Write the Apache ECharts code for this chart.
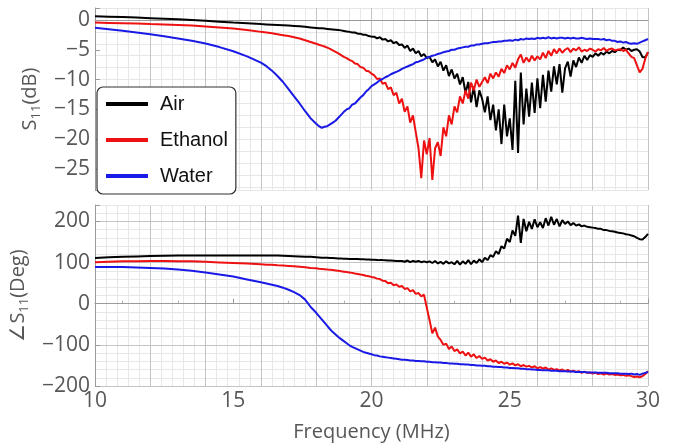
<!DOCTYPE html>
<html>
<head>
<meta charset="utf-8">
<script src="https://cdn.jsdelivr.net/npm/echarts@6/dist/echarts.min.js"></script>
<style>
  html, body { margin: 0; padding: 0; background: #fff; }
  #chart { width: 677px; height: 448px; }
</style>
</head>
<body>
<div id="chart"></div>
<script>
// Frequency sweep points (MHz): coarse where the responses are smooth, 0.1 MHz above 18 MHz
const freq = [10,10.5,11,11.5,12,12.5,13,13.5,14,14.5,15,15.5,16,16.2,16.4,16.6,16.8,17,17.2,17.4,17.6,17.8,18,
  18.1,18.2,18.3,18.4,18.5,18.6,18.7,18.8,18.9,19.0,
  19.1,19.2,19.3,19.4,19.5,19.6,19.7,19.8,19.9,20.0,
  20.1,20.2,20.3,20.4,20.5,20.6,20.7,20.8,20.9,21.0,
  21.1,21.2,21.3,21.4,21.5,21.6,21.7,21.8,21.9,22.0,
  22.1,22.2,22.3,22.4,22.5,22.6,22.7,22.8,22.9,23.0,
  23.1,23.2,23.3,23.4,23.5,23.6,23.7,23.8,23.9,24.0,
  24.1,24.2,24.3,24.4,24.5,24.6,24.7,24.8,24.9,25.0,
  25.1,25.2,25.3,25.4,25.5,25.6,25.7,25.8,25.9,26.0,
  26.1,26.2,26.3,26.4,26.5,26.6,26.7,26.8,26.9,27.0,
  27.1,27.2,27.3,27.4,27.5,27.6,27.7,27.8,27.9,28.0,
  28.1,28.2,28.3,28.4,28.5,28.6,28.7,28.8,28.9,29.0,
  29.1,29.2,29.3,29.4,29.5,29.6,29.7,29.8,29.9,30.0];

// |S11| in dB
const airMag = [0.6,0.55,0.5,0.4,0.3,0.2,0.1,0,-0.15,-0.3,-0.45,-0.55,-0.7,-0.75,-0.8,-0.85,-0.9,-0.95,-1.0,-1.05,-1.15,-1.25,-1.35,
  -1.4,-1.4,-1.45,-1.5,-1.55,-1.6,-1.65,-1.7,-1.75,-1.85,
  -1.95,-2.0,-2.1,-2.1,-2.3,-2.3,-2.5,-2.5,-2.7,-2.8,
  -2.8,-3.1,-2.9,-3.3,-3.2,-3.6,-3.4,-3.9,-3.7,-4.2,
  -4.1,-4.7,-4.3,-5.2,-4.8,-5.6,-5.2,-6.1,-5.7,-6.4,
  -6.2,-7.1,-6.6,-7.8,-7.0,-8.5,-7.6,-9.4,-8.3,-9.8,
  -9.0,-10.8,-9.6,-12.2,-10.4,-13.8,-11.2,-14.6,-11.8,-13.2,
  -15.5,-12.8,-16.8,-14.2,-18.5,-15.0,-20.8,-14.2,-19.5,-16.5,
  -21.8,-10.2,-22.3,-8.8,-17.5,-11.5,-16.2,-10.5,-15.6,-9.8,
  -14.8,-9.2,-13.7,-8.5,-12.0,-7.8,-10.8,-7.4,-12.2,-8.1,
  -7.0,-9.5,-6.8,-7.9,-6.3,-7.2,-6.0,-6.7,-5.9,-6.2,
  -5.6,-6.0,-5.5,-5.8,-5.3,-5.6,-5.2,-5.4,-5.0,-5.1,
  -4.6,-5.0,-4.8,-5.2,-5.0,-4.9,-5.3,-6.2,-6.3,-5.4];
const ethanolMag = [-0.45,-0.5,-0.55,-0.6,-0.7,-0.75,-0.85,-0.95,-1.1,-1.25,-1.45,-1.7,-2.0,-2.1,-2.25,-2.4,-2.55,-2.7,-2.9,-3.1,-3.4,-3.7,-4.0,
  -4.15,-4.3,-4.45,-4.65,-4.85,-5.1,-5.35,-5.6,-5.9,-6.2,
  -6.4,-6.7,-6.9,-7.3,-7.4,-7.9,-8.0,-8.5,-8.6,-9.0,
  -9.3,-9.9,-9.8,-10.7,-10.5,-11.6,-11.3,-12.6,-12.2,-14.0,
  -13.2,-15.4,-14.5,-17.2,-16.0,-18.8,-21.5,-26.5,-20.2,-22.5,
  -19.8,-26.8,-21.5,-20.5,-22.8,-18.0,-19.5,-16.0,-17.5,-14.5,
  -15.5,-12.8,-14.0,-11.8,-13.2,-10.5,-11.8,-10.0,-11.2,-10.4,
  -9.6,-10.6,-9.0,-9.8,-8.8,-9.5,-8.2,-8.9,-7.6,-8.3,
  -7.2,-8.0,-6.6,-5.8,-7.2,-6.3,-7.0,-6.0,-6.8,-6.1,
  -6.6,-5.5,-6.4,-5.2,-6.0,-4.9,-5.6,-4.8,-5.5,-5.0,
  -4.7,-5.4,-4.8,-5.1,-4.6,-5.3,-5.0,-5.2,-4.8,-5.0,
  -5.3,-4.9,-5.1,-4.7,-5.2,-4.9,-4.8,-5.1,-5.0,-4.9,
  -5.2,-5.0,-5.6,-6.2,-6.4,-7.6,-8.8,-8.2,-6.5,-5.4];
const waterMag = [-1.3,-1.55,-1.8,-2.1,-2.4,-2.75,-3.1,-3.5,-3.95,-4.55,-5.25,-6.1,-7.15,-7.75,-8.5,-9.4,-10.4,-11.6,-12.8,-14.0,-15.3,-16.5,-17.4,
  -17.8,-18.1,-17.9,-17.8,-17.5,-17.2,-16.9,-16.4,-15.9,-15.4,
  -15.0,-14.8,-14.2,-14.0,-13.5,-13.0,-12.6,-12.0,-11.6,-11.1,
  -10.8,-10.5,-10.1,-9.9,-9.6,-9.4,-9.1,-8.9,-8.7,-8.5,
  -8.2,-8.0,-7.8,-7.6,-7.4,-7.1,-7.0,-6.8,-6.6,-6.3,
  -6.2,-6.0,-5.9,-5.7,-5.6,-5.4,-5.3,-5.2,-5.0,-5.0,
  -4.8,-4.7,-4.6,-4.5,-4.5,-4.3,-4.3,-4.1,-4.1,-4.0,
  -3.9,-3.9,-3.8,-3.7,-3.7,-3.6,-3.6,-3.5,-3.5,-3.4,
  -3.5,-3.3,-3.4,-3.2,-3.3,-3.1,-3.2,-3.1,-3.2,-3.0,
  -3.1,-3.0,-3.1,-2.9,-3.1,-3.0,-3.1,-3.0,-3.0,-3.1,
  -3.0,-3.1,-3.0,-3.1,-3.1,-3.0,-3.1,-3.2,-3.1,-3.2,
  -3.2,-3.2,-3.3,-3.2,-3.4,-3.3,-3.5,-3.5,-3.7,-3.6,
  -3.8,-3.7,-3.9,-4.0,-3.9,-4.0,-3.8,-3.6,-3.4,-3.2];

// S11 phase in degrees
const airPhase = [111,113,114,115,116,116.5,117,117,117,117,117,117,117,117,117,117,116.5,116,115.5,115,114.5,114,113,
  112.5,112,112,111.5,111,111,110.5,110,110,109.5,
  109.5,109,109,108.5,108.5,108,108,107.5,107.5,107,
  107,106.5,106,106,105.5,105,105,104.5,104,104,
  104,102,105,101,104,102,104,101,103,101,
  103,99,104,98,102,97,103,98,101,96,
  104,95,103,97,106,96,105,99,108,101,
  112,106,118,114,128,121,140,134,158,150,
  178,165,214,148,206,176,199,182,205,186,
  198,184,208,190,211,192,206,188,203,194,
  200,191,196,190,193,188,190,187,186,185,
  184,182,182,179,179,177,176,175,173,172,
  171,169,168,166,164,160,157,156,162,170];
const ethanolPhase = [101,102,103,103.5,104,104,103.5,103,102,100.5,99,97.5,96,95,94.5,93.5,93,92,91,90,88.5,87,86,
  85,84.5,84,83,82.5,82,81,80,79,78,
  77,76,75,73.5,72.5,71,70,68,67,65,
  64,61,60,56,55,50,51,45,47,41,
  43,36,38,30,33,24,26,18,22,-10,
  -40,-72,-58,-80,-88,-100,-97,-110,-104,-115,
  -111,-121,-116,-126,-119,-129,-123,-132,-127,-134,
  -131,-138,-135,-141,-138,-144,-141,-146,-143,-148,
  -145,-150,-147,-152,-149,-153,-151,-155,-152,-157,
  -154,-158,-155,-160,-157,-161,-159,-162,-160,-164,
  -161,-165,-163,-166,-164,-168,-165,-168,-167,-170,
  -168,-171,-169,-172,-170,-172,-171,-173,-172,-174,
  -173,-175,-174,-176,-178,-177,-179,-176,-171,-164];
const waterPhase = [89.5,89.5,89,88,87,85.5,83,80,76,71,66,59,52,49,46,43,39,34,28,21,10,-8,-22,
  -30,-38,-46,-54,-62,-69,-75,-81,-86,-91,
  -96,-101,-105,-108,-111,-114,-117,-119,-121,-123,
  -125,-126,-128,-129,-130,-131,-132,-133,-134,-135,
  -136,-136,-137,-138,-138,-139,-139,-140,-140,-141,
  -141,-142,-142,-143,-143,-144,-144,-145,-145,-146,
  -146,-147,-147,-148,-148,-149,-149,-150,-150,-151,
  -151,-152,-152,-153,-153,-154,-154,-155,-155,-156,
  -156,-157,-157,-158,-158,-159,-159,-160,-160,-161,
  -161,-162,-162,-162,-163,-163,-163,-164,-164,-164,
  -165,-165,-165,-166,-166,-166,-166,-167,-167,-167,
  -167,-168,-168,-168,-168,-169,-169,-169,-169,-170,
  -170,-170,-171,-170,-172,-171,-173,-170,-168,-166];

const mediums = ['Air', 'Ethanol', 'Water'];
const colors = ['#000000', '#ee1111', '#1a1ae6'];
const magTicks = [0, -5, -10, -15, -20, -25];
const phaseTicks = [200, 100, 0, -100, -200];
const freqTicks = [10, 15, 20, 25, 30];

const pairs = (vals) => freq.map((f, i) => [f, vals[i]]);
const minus = (v) => String(v).replace('-', '\u2212');

const textGrey = '#575757';
const font = 'Open Sans';
const axisGrey = '#9a9a9a';
const majorGrid = '#c4c4c4';
const minorGrid = '#e7e7e7';

const chart = echarts.init(document.getElementById('chart'), null, { renderer: 'canvas' });

const gridBox = [
  { left: 95, right: 29, top: 8, height: 182 },
  { left: 95, right: 29, top: 205, height: 181 }
];

function gridXAxis(gridIndex) {
  return {
    type: 'value', gridIndex, position: 'bottom', min: 10, max: 30, interval: 2,
    axisLine: { show: gridIndex === 0, lineStyle: { color: axisGrey } },
    axisTick: { show: false }, axisLabel: { show: false },
    splitLine: { show: true, lineStyle: { color: majorGrid, width: 1 } },
    minorTick: { show: false, splitNumber: 5 },
    minorSplitLine: { show: true, lineStyle: { color: minorGrid, width: 1 } },
    z: 0
  };
}

function hiddenGridY(gridIndex, opts) {
  return Object.assign({
    type: 'value', gridIndex, position: 'left',
    axisLine: { show: false }, axisTick: { show: false }, axisLabel: { show: false }
  }, opts);
}

const nameRich = {
  s: { fontFamily: font, fontSize: 20, color: textGrey, lineHeight: 26, verticalAlign: 'middle' },
  sub: { fontFamily: font, fontSize: 13, color: textGrey, lineHeight: 26, verticalAlign: 'bottom' }
};

const option = {
  animation: false,
  backgroundColor: '#ffffff',
  grid: gridBox,
  xAxis: [
    gridXAxis(0),
    gridXAxis(1),
    {
      type: 'value', gridIndex: 1, position: 'bottom', min: 10, max: 30, interval: 5,
      name: 'Frequency (MHz)', nameLocation: 'middle', nameGap: 36,
      nameTextStyle: { fontFamily: font, fontSize: 20, color: textGrey },
      axisLine: { show: true, lineStyle: { color: axisGrey } },
      axisTick: { show: true, inside: true, length: 5, lineStyle: { color: axisGrey } },
      minorTick: { show: true, splitNumber: 5, length: 3, lineStyle: { color: '#b0b0b0' } },
      axisLabel: {
        fontFamily: font, fontSize: 21, color: textGrey, margin: 5,
        formatter: (v) => freqTicks.includes(v) ? String(v) : ''
      },
      splitLine: { show: false }
    }
  ],
  yAxis: [
    // magnitude: labelled axis
    {
      type: 'value', gridIndex: 0, position: 'left', min: -28.5, max: 2, minInterval: 5, maxInterval: 5,
      name: '{s|S}{sub|11}{s|(dB)}', nameLocation: 'middle', nameGap: 50, nameRotate: 90,
      nameTextStyle: { color: textGrey, rich: nameRich },
      axisLine: { show: true, lineStyle: { color: axisGrey } },
      axisTick: { show: true, inside: true, length: 5, lineStyle: { color: axisGrey } },
      axisLabel: {
        fontFamily: font, fontSize: 21, color: textGrey, margin: 5,
        formatter: (v) => magTicks.includes(v) ? minus(v) : ''
      },
      splitLine: { show: false }
    },
    // magnitude: major and minor grid
    hiddenGridY(0, { min: -28.5, max: 2, minInterval: 10, maxInterval: 10,
      splitLine: { show: true, lineStyle: { color: majorGrid } } }),
    hiddenGridY(0, { min: -28.5, max: 2, minInterval: 2, maxInterval: 2,
      splitLine: { show: true, lineStyle: { color: minorGrid } }, z: 0 }),
    // phase: labelled axis with major grid
    {
      type: 'value', gridIndex: 1, position: 'left', min: -200, max: 240, interval: 100,
      name: '{s|\u2220S}{sub|11}{s|(Deg)}', nameLocation: 'middle', nameGap: 50, nameRotate: 90,
      nameTextStyle: { color: textGrey, rich: nameRich },
      axisLine: { show: true, lineStyle: { color: axisGrey } },
      axisTick: { show: true, inside: true, length: 5, lineStyle: { color: axisGrey } },
      axisLabel: {
        fontFamily: font, fontSize: 21, color: textGrey, margin: 5,
        formatter: (v) => phaseTicks.includes(v) ? minus(v) : ''
      },
      splitLine: { show: true, lineStyle: { color: [majorGrid, majorGrid, axisGrey, majorGrid, majorGrid, minorGrid] } },
      z: 1
    },
    // phase: minor grid
    hiddenGridY(1, { min: -200, max: 240, interval: 20,
      splitLine: { show: true, lineStyle: { color: minorGrid } }, z: 0 })
  ],
  legend: {
    data: mediums,
    orient: 'vertical',
    left: 97, top: 87,
    padding: [6, 8, 7, 9],
    itemGap: 14,
    icon: 'rect',
    itemWidth: 42, itemHeight: 4,
    backgroundColor: '#ffffff',
    borderColor: '#333333', borderWidth: 1.2, borderRadius: 6,
    textStyle: { fontFamily: 'Liberation Sans', fontSize: 20, lineHeight: 22, color: '#111', padding: [0, 0, 0, 7] },
    z: 10
  },
  series: [
    ...[airMag, ethanolMag, waterMag].map((vals, k) => ({
      name: mediums[k], type: 'line', xAxisIndex: 0, yAxisIndex: 0,
      data: pairs(vals), symbol: 'none', smooth: false,
      lineStyle: { color: colors[k], width: 2 }, itemStyle: { color: colors[k] }, z: 3
    })),
    ...[airPhase, ethanolPhase, waterPhase].map((vals, k) => ({
      name: mediums[k], type: 'line', xAxisIndex: 1, yAxisIndex: 3,
      data: pairs(vals), symbol: 'none', smooth: false,
      lineStyle: { color: colors[k], width: 2 }, itemStyle: { color: colors[k] }, z: 3
    }))
  ]
};

chart.setOption(option);
</script>
</body>
</html>
